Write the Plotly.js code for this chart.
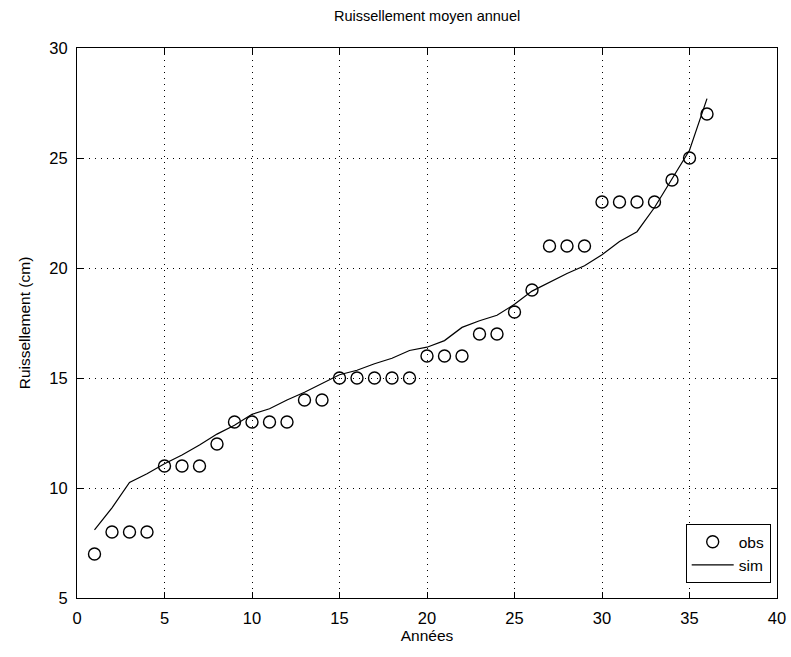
<!DOCTYPE html>
<html>
<head>
<meta charset="utf-8">
<script src="https://cdn.plot.ly/plotly-3.0.1.min.js"></script>
<style>html,body{margin:0;padding:0;background:#fff;}#chart{width:791px;height:657px;}</style>
</head>
<body>
<div id="chart"></div>
<script>
const years = [1,2,3,4,5,6,7,8,9,10,11,12,13,14,15,16,17,18,19,20,21,22,23,24,25,26,27,28,29,30,31,32,33,34,35,36];
const obs = [7,8,8,8,11,11,11,12,13,13,13,13,14,14,15,15,15,15,15,16,16,16,17,17,18,19,21,21,21,23,23,23,23,24,25,27];
const sim = [8.1,9.1,10.25,10.65,11.1,11.5,11.95,12.45,12.85,13.35,13.6,14.0,14.35,14.75,15.15,15.35,15.65,15.9,16.25,16.4,16.7,17.3,17.6,17.85,18.35,18.95,19.35,19.75,20.1,20.6,21.2,21.65,22.75,24.05,25.35,27.7];
const xTicks = [0,5,10,15,20,25,30,35,40];
const yTicks = [5,10,15,20,25,30];

const fam = '"Liberation Sans", Arial, sans-serif';
const titleFont = {family: fam, size: 14.5, color: '#000'};
const axisTitleFont = {family: fam, size: 15.5, color: '#000'};
const tickFont = {family: fam, size: 16.5, color: '#000'};
const legendFont = {family: fam, size: 15.5, color: '#000'};
const axisCommon = {
  showline: true, linecolor: '#000', linewidth: 1, mirror: 'ticks',
  ticks: 'inside', ticklen: 6, tickcolor: '#000', tickwidth: 1,
  showgrid: true, gridcolor: '#000', griddash: '1px,5px', gridwidth: 1,
  zeroline: false, tickfont: tickFont, tickmode: 'array'
};

Plotly.newPlot('chart', [
  {x: years, y: obs, name: 'obs', type: 'scatter', mode: 'markers',
   marker: {symbol: 'circle-open', size: 12, color: '#000', line: {width: 1.4, color: '#000'}}},
  {x: years, y: sim, name: 'sim', type: 'scatter', mode: 'lines',
   line: {color: '#000', width: 1.2}}
], {
  width: 791, height: 657,
  paper_bgcolor: '#fff', plot_bgcolor: '#fff',
  margin: {l: 77, r: 14, t: 48, b: 59},
  font: axisTitleFont,
  title: {text: 'Ruissellement moyen annuel', font: titleFont, x: 0.54, xanchor: 'center', y: 0.983, yanchor: 'top'},
  xaxis: Object.assign({}, axisCommon, {range: [0, 40], tickvals: xTicks, ticktext: xTicks.map(String),
    ticklabelstandoff: 5,
    title: {text: 'Années', font: axisTitleFont, standoff: 4}}),
  yaxis: Object.assign({}, axisCommon, {range: [5, 30], tickvals: yTicks, ticktext: yTicks.map(String),
    ticklabelstandoff: 5,
    title: {text: 'Ruissellement (cm)', font: axisTitleFont, standoff: 14}}),
  legend: {x: 0.991, y: 0.027, xanchor: 'right', yanchor: 'bottom', bgcolor: '#fff',
    bordercolor: '#000', borderwidth: 1, font: legendFont, tracegroupgap: 0, itemwidth: 42},
  showlegend: true
}, {displayModeBar: false, staticPlot: true});
</script>
</body>
</html>
